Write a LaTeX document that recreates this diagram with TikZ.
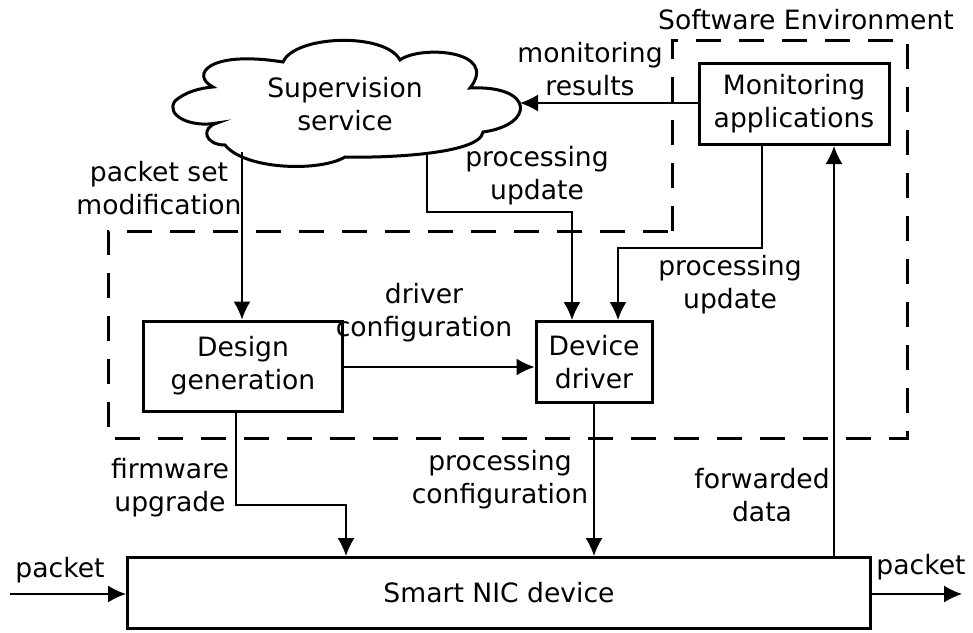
\documentclass[tikz,border=0pt]{standalone}
\usepackage{fontspec}
\setmainfont{DejaVu Sans}
\usetikzlibrary{arrows.meta}
\tikzset{
  lbl/.style={align=center, inner sep=0pt, font=\fontsize{26.6}{33}\selectfont},
  blk/.style={draw, line width=3pt, align=center, inner sep=0pt, font=\fontsize{26.6}{33}\selectfont},
  conn/.style={line width=1.6pt, -{Latex[length=18pt,width=17pt]}},
  envline/.style={line width=3pt, dash pattern=on 25pt off 18pt},
}
\begin{document}
\begin{tikzpicture}[x=1pt,y=-1pt]
\useasboundingbox (0,0) rectangle (973,632);
% software environment
\draw[envline] (672,231) -- (672,40) -- (907,40) -- (907,438) -- (108,438) -- (108,231) -- cycle;
\node[lbl] (env) at (806,20) {Software Environment};
% cloud
\draw[line width=3pt, fill=white]
  (175,101) .. controls (185,92) and (200,88) .. (213,87)
  .. controls (190,75) and (208,50) .. (283,62)
  .. controls (295,35) and (385,32) .. (400,60)
  .. controls (420,45) and (500,50) .. (470,88)
  .. controls (535,85) and (535,125) .. (483,132)
  .. controls (480,155) and (380,158) .. (345,157)
  .. controls (320,172) and (245,170) .. (225,145)
  .. controls (205,145) and (200,128) .. (217,123)
  .. controls (190,128) and (165,115) .. (175,101) -- cycle;
\node[lbl] (sup) at (345,104) {Supervision\\service};
\coordinate (cloudR) at (520,103);
\coordinate (cloudB1) at (242,152);
\coordinate (cloudB2) at (427,152);
% boxes
\node[blk, minimum width=190pt, minimum height=81pt] (mon) at (794,104) {Monitoring\\applications};
\node[blk, minimum width=199pt, minimum height=90pt] (des) at (243,366) {Design\\generation};
\node[blk, minimum width=116pt, minimum height=81pt] (drv) at (594,362) {Device\\driver};
\node[blk, minimum width=743pt, minimum height=71pt] (nic) at (499,593) {Smart NIC device};
% connectors
\draw[conn] (mon.west |- cloudR) -- (cloudR);
\node[lbl] (lmr) at (590,69) {monitoring\\results};
\draw[conn] (cloudB1) -- (cloudB1 |- des.north);
\node[lbl] (lpsm) at (159,188) {packet set\\modification};
\draw[conn] (cloudB2) -- (427,212) -- (572,212) -- (572,0 |- drv.north);
\node[lbl] (lpu1) at (537,176) {processing\\update};
\draw[conn] (762,0 |- mon.south) -- (762,248) -- (618,248) -- (618,0 |- drv.north);
\node[lbl] (lpu2) at (730,285) {processing\\update};
\draw[conn] (des.east |- 0,367) -- (drv.west |- 0,367);
\node[lbl] (ldc) at (424,313) {driver\\configuration};
\draw[conn] (236,0 |- des.south) -- (236,505) -- (346,505) -- (346,0 |- nic.north);
\node[lbl] (lfu) at (170,488) {firmware\\upgrade};
\draw[conn] (drv.south) -- (drv.south |- nic.north);
\node[lbl] (lpc) at (500,480) {processing\\configuration};
\draw[conn] (834,0 |- nic.north) -- (834,0 |- mon.south);
\node[lbl] (lfd) at (762,495) {forwarded\\data};
\coordinate (inP) at (10,594);
\coordinate (outP) at (962,594);
\draw[conn] (inP) -- (nic.west |- inP);
\node[lbl] (lpin) at (60,570) {packet};
\draw[conn] (nic.east |- outP) -- (outP);
\node[lbl] (lpout) at (921,567) {packet};
\end{tikzpicture}
\end{document}
